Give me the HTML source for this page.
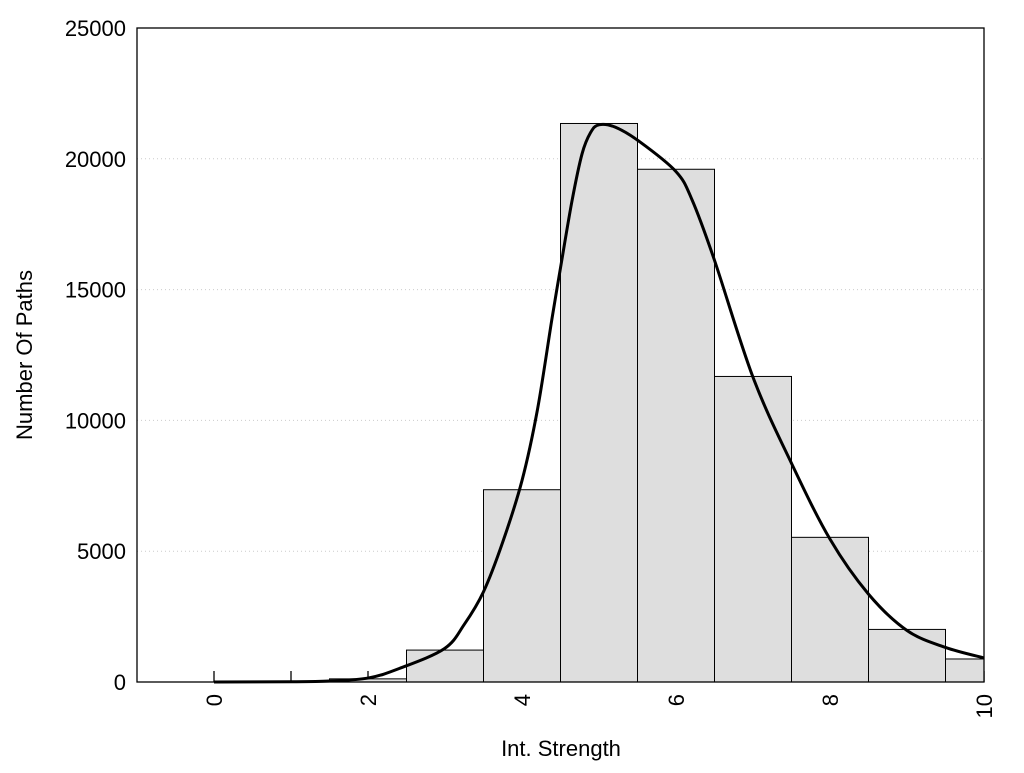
<!DOCTYPE html>
<html><head><meta charset="utf-8"><style>
body{margin:0;background:#fff;}
svg text{font-family:"Liberation Sans",Arial,sans-serif;fill:#000;}
</style></head><body>
<svg id="chart" width="1024" height="768" xmlns="http://www.w3.org/2000/svg">
<g id="grid"></g>
<g id="ticks"></g>
<g id="bars"></g>
<path id="curve" fill="none" stroke="#000" stroke-width="3"/>
<rect x="137" y="28" width="847" height="654" fill="none" stroke="#000" stroke-width="1.3"/>
<g id="ylabels"></g>
<g id="xlabels"></g>
<text x="561" y="756" font-size="22" text-anchor="middle">Int. Strength</text>
<text transform="translate(32,355) rotate(-90)" font-size="22" text-anchor="middle">Number Of Paths</text>
</svg>
<script>
const binCenters=[0,1,2,3,4,5,6,7,8,9,10];
const binCounts=[0,0,120,1220,7350,21350,19600,11680,5530,2010,880];
const curveX=[0,1,1.5,2,2.41,2.99,3.25,3.5,3.75,4.0,4.2,4.39,4.5,4.65,4.78,4.89,5.0,5.21,5.52,6.0,6.21,6.5,7,7.5,8,8.5,9,9.5,10];
const curveY=[0,10,40,150,520,1270,2200,3450,5350,7700,10400,13900,15830,18400,20190,21000,21300,21210,20670,19510,18420,16120,11650,8360,5460,3360,1970,1320,920];
const yTicks=[0,5000,10000,15000,20000,25000];
const xTickLabels=[0,2,4,6,8,10];
const X0=137,X1=984,Y0=682,Y1=28,XMIN=-1,XMAX=10,YMAX=25000;
const sx=v=>X0+(v-XMIN)/(XMAX-XMIN)*(X1-X0);
const sy=v=>Y0-v/YMAX*(Y0-Y1);
const NS="http://www.w3.org/2000/svg";
function mk(t,a,p){const e=document.createElementNS(NS,t);for(const k in a)e.setAttribute(k,a[k]);p.appendChild(e);return e;}
const grid=document.getElementById('grid');
yTicks.forEach(v=>{if(v>0&&v<YMAX){const l=mk('line',{x1:X0,x2:X1,y1:sy(v),y2:sy(v),stroke:'#ccc','stroke-dasharray':'1,3'},grid);

}
const t=mk('text',{x:126,y:sy(v)+8,'font-size':22,'text-anchor':'end'},document.getElementById('ylabels'));t.textContent=v;

});
const ticks=document.getElementById('ticks');
for(let i=0;i<=10;i++){const l=mk('line',{x1:sx(i),x2:sx(i),y1:Y0,y2:Y0-11,stroke:'#000','stroke-width':1.3},ticks);

}
const bars=document.getElementById('bars');
binCenters.forEach((c,i)=>{if(binCounts[i]<=0)return;const a=Math.max(sx(c-0.5),X0),b=Math.min(sx(c+0.5),X1);
const r=mk('rect',{x:a,y:sy(binCounts[i]),width:b-a,height:Y0-sy(binCounts[i]),fill:'#dedede',stroke:'#000','stroke-width':1},bars);

});
xTickLabels.forEach(v=>{const t=mk('text',{transform:`translate(${sx(v)+8},${Y0+12}) rotate(-90)`,'font-size':22,'text-anchor':'end'},document.getElementById('xlabels'));t.textContent=v;

});
const P=curveX.map((x,i)=>[sx(x),sy(curveY[i])]);
let d='M'+P[0][0]+','+P[0][1];
for(let i=0;i<P.length-1;i++){const p0=P[Math.max(i-1,0)],p1=P[i],p2=P[i+1],p3=P[Math.min(i+2,P.length-1)];
const c1=[p1[0]+(p2[0]-p0[0])/6,p1[1]+(p2[1]-p0[1])/6],c2=[p2[0]-(p3[0]-p1[0])/6,p2[1]-(p3[1]-p1[1])/6];
d+=` C${c1[0]},${c1[1]} ${c2[0]},${c2[1]} ${p2[0]},${p2[1]}`;}
document.getElementById('curve').setAttribute('d',d);
</script>
</body></html>
